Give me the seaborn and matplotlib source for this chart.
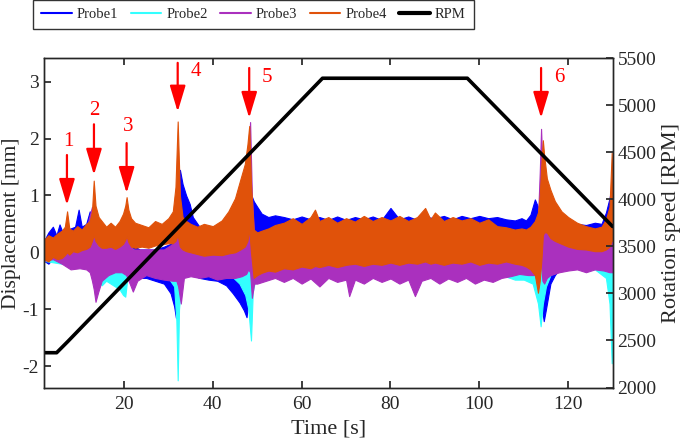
import matplotlib
matplotlib.use("Agg")
import matplotlib.pyplot as plt
from matplotlib.lines import Line2D
import seaborn as sns

# envelopes (upper / lower) of each probe signal [mm]
orange_t = [2, 3, 4, 5, 6, 6.7, 7.2, 7.7, 8.5, 9.5, 10.5, 11.5, 12.3, 12.8, 13.2,
            13.6, 14.3, 15, 16, 17, 18, 19, 19.8, 20.3, 20.6, 21.0, 21.6, 22.5, 24, 25.5,
            27, 28.5, 30, 31, 31.6, 32.1, 32.6, 33.2, 34, 35, 36.5, 38, 40, 42, 43.5,
            45, 46.2, 47.2, 47.8, 48.2, 48.6, 49.2, 50, 51, 52.5, 54, 56, 58, 60, 62,
            63, 64, 66, 68, 70, 72, 74, 76, 78, 80, 82, 84, 86, 87.8, 89,
            90, 92, 94, 96, 98, 100, 102, 104, 106, 108, 109.5, 110.5, 111.5, 112.5, 113.2,
            113.6, 114.0, 114.3, 114.6, 115.2, 116, 117, 118.5, 120, 122, 124, 126, 127.5, 128.5, 129.3,
            129.8, 130]
orange_hi = [0.22, 0.30, 0.26, 0.33, 0.38, 0.45, 0.72, 0.42, 0.38, 0.46, 0.40, 0.50, 0.55, 0.72, 1.26,
             0.82, 0.62, 0.55, 0.45, 0.52, 0.45, 0.55, 0.68, 0.82, 0.97, 0.75, 0.60, 0.52, 0.48, 0.44,
             0.55, 0.50, 0.60, 0.72, 1.15, 2.30, 1.00, 0.62, 0.55, 0.50, 0.45, 0.50, 0.46, 0.56, 0.72,
             0.95, 1.28, 1.55, 1.90, 2.22, 1.20, 0.40, 0.35, 0.38, 0.42, 0.48, 0.52, 0.60, 0.50, 0.62,
             0.75, 0.55, 0.62, 0.52, 0.60, 0.54, 0.64, 0.55, 0.62, 0.56, 0.64, 0.55, 0.62, 0.78, 0.58,
             0.70, 0.55, 0.62, 0.56, 0.60, 0.52, 0.58, 0.46, 0.44, 0.40, 0.42, 0.40, 0.45, 0.55, 0.70,
             1.00, 1.60, 1.97, 1.70, 1.30, 1.10, 0.90, 0.72, 0.62, 0.52, 0.46, 0.42, 0.45, 0.58, 0.80,
             1.75, 1.20]
orange_lo = [-0.12, -0.16, -0.08, -0.12, -0.10, -0.05, 0.00, -0.04, 0.02, 0.00, 0.04, 0.06, 0.10, 0.20, 0.30,
             0.20, 0.12, 0.08, 0.08, 0.10, 0.06, 0.10, 0.15, 0.22, 0.28, 0.18, 0.10, 0.08, 0.10, 0.08,
             0.12, 0.14, 0.16, 0.16, 0.20, 0.30, 0.10, 0.05, 0.02, 0.00, -0.03, -0.06, -0.04, -0.05, -0.02,
             0.00, 0.05, 0.10, 0.20, 0.40, 0.00, -0.45, -0.40, -0.36, -0.32, -0.34, -0.28, -0.30, -0.25, -0.28,
             -0.24, -0.26, -0.22, -0.26, -0.22, -0.20, -0.24, -0.20, -0.22, -0.18, -0.22, -0.18, -0.20, -0.16, -0.20,
             -0.18, -0.22, -0.18, -0.20, -0.16, -0.22, -0.18, -0.20, -0.16, -0.20, -0.22, -0.25, -0.30, -0.40, -0.71,
             -0.50, -0.10, 0.30, 0.35, 0.35, 0.25, 0.20, 0.15, 0.10, 0.06, 0.05, 0.02, 0.02, 0.05, 0.10,
             0.20, 0.20]

blue_t = [2, 3, 4, 4.8, 5.5, 6.2, 7, 8, 9, 9.8, 10.5, 11.5, 12.3, 13, 14,
          16, 18, 19.5, 20.3, 20.8, 21.5, 22.5, 23.5, 25, 27, 29, 30.5, 31.3, 31.7, 32.1,
          32.6, 33.2, 34, 34.8, 35.5, 37, 39, 41, 43, 44.5, 46, 47, 47.6, 48.2, 48.7,
          49.2, 50, 51, 52.5, 54, 56, 58, 60, 62, 64, 66, 68, 70, 72, 74,
          76, 78, 80, 82, 84, 86, 88, 90, 92, 94, 96, 98, 100, 102, 104,
          106, 108, 109.5, 110.5, 111.5, 112.5, 113.2, 113.9, 114.5, 115, 116, 117, 118.5, 120, 122,
          124, 126, 127.5, 128.5, 129.3, 129.8, 130]
blue_hi = [0.20, 0.35, 0.45, 0.30, 0.49, 0.35, 0.40, 0.42, 0.45, 0.75, 0.45, 0.50, 0.72, 0.50, 0.30,
           0.20, 0.25, 0.30, 0.50, 0.45, 0.20, 0.10, 0.05, 0.05, 0.05, 0.10, 0.15, 0.20, 0.40, 0.80,
           1.45, 1.20, 1.00, 0.85, 0.62, 0.45, 0.30, 0.25, 0.20, 0.20, 0.20, 0.25, 0.40, 0.80, 1.00,
           0.90, 0.80, 0.68, 0.62, 0.65, 0.62, 0.58, 0.63, 0.58, 0.62, 0.57, 0.63, 0.57, 0.62, 0.58,
           0.63, 0.57, 0.78, 0.58, 0.63, 0.57, 0.62, 0.60, 0.64, 0.58, 0.64, 0.60, 0.64, 0.60, 0.62,
           0.58, 0.56, 0.60, 0.56, 0.66, 0.93, 0.80, 0.40, 0.10, 0.00, 0.00, 0.10, 0.25, 0.45, 0.50,
           0.48, 0.52, 0.50, 0.70, 0.95, 1.15, 1.05]
blue_lo = [-0.15, -0.20, -0.10, -0.15, -0.12, -0.10, -0.08, -0.05, -0.05, -0.05, -0.02, 0.00, -0.05, -0.20, -0.30,
           -0.20, -0.15, -0.15, -0.20, -0.20, -0.22, -0.30, -0.45, -0.45, -0.50, -0.55, -0.72, -0.95, -1.15, -0.60,
           -0.30, -0.35, -0.35, -0.38, -0.40, -0.45, -0.48, -0.50, -0.58, -0.72, -0.88, -1.02, -1.14, -0.70, -0.20,
           0.00, 0.10, 0.15, 0.15, 0.10, 0.10, 0.10, 0.10, 0.10, 0.10, 0.10, 0.10, 0.10, 0.10, 0.10,
           0.10, 0.10, 0.10, 0.10, 0.10, 0.10, 0.10, 0.10, 0.10, 0.10, 0.10, 0.10, 0.10, 0.10, 0.10,
           0.10, 0.10, 0.05, 0.00, -0.10, -0.30, -0.60, -0.90, -1.21, -1.00, -0.55, -0.40, -0.25, -0.10, 0.00,
           0.00, 0.00, 0.00, 0.00, 0.00, 0.00, 0.00]

purple_t = [2, 4, 6, 8, 10, 11.5, 12.3, 12.8, 13.2, 13.6, 14.2, 15, 16.5, 18, 19.5,
            20.5, 21.3, 22, 23, 25, 27, 29, 31, 31.8, 32.2, 32.8, 33.5, 35, 37, 39,
            41, 43, 45, 46.5, 47.5, 48.0, 48.4, 48.8, 49.3, 50, 52, 54, 56, 58, 60,
            62, 64, 66, 68, 70, 70.7, 72, 74, 76, 78, 80, 82, 84, 85.5, 87,
            89, 91, 93, 95, 97, 99, 101, 103, 105, 107, 109, 111, 112.5, 113.2, 113.6,
            113.9, 114.2, 114.6, 115.2, 116, 118, 120, 122, 124, 126, 128, 129.3, 130]
purple_hi = [0.15, 0.20, 0.20, 0.25, 0.25, 0.40, 0.65, 0.80, 0.50, 0.20, 0.10, 0.10, 0.10, 0.10, 0.15,
             0.40, 0.20, 0.05, 0.05, 0.05, 0.05, 0.05, 0.15, 0.90, 1.50, 0.60, 0.10, 0.05, 0.05, 0.05,
             0.05, 0.10, 0.30, 0.60, 1.20, 1.80, 2.29, 1.00, 0.30, 0.10, 0.10, 0.10, 0.10, 0.10, 0.10,
             0.10, 0.10, 0.10, 0.10, 0.10, 0.10, 0.10, 0.10, 0.10, 0.10, 0.10, 0.10, 0.10, 0.10, 0.10,
             0.10, 0.10, 0.10, 0.10, 0.10, 0.10, 0.10, 0.10, 0.10, 0.10, 0.10, 0.10, 0.30, 0.60, 1.40,
             2.17, 1.50, 0.70, 0.45, 0.35, 0.30, 0.25, 0.20, 0.20, 0.20, 0.20, 0.20, 0.20]
purple_lo = [-0.15, -0.12, -0.20, -0.30, -0.28, -0.30, -0.35, -0.50, -0.65, -0.87, -0.70, -0.50, -0.40, -0.35, -0.35,
             -0.40, -0.55, -0.69, -0.50, -0.40, -0.45, -0.48, -0.50, -0.50, -0.60, -0.90, -0.45, -0.42, -0.45, -0.42,
             -0.48, -0.45, -0.45, -0.42, -0.38, -0.30, -0.35, -0.80, -0.55, -0.55, -0.50, -0.45, -0.52, -0.45, -0.55,
             -0.46, -0.60, -0.45, -0.52, -0.48, -0.77, -0.48, -0.55, -0.45, -0.52, -0.46, -0.55, -0.48, -0.77, -0.50,
             -0.45, -0.55, -0.46, -0.52, -0.45, -0.55, -0.48, -0.52, -0.45, -0.42, -0.38, -0.40, -0.40, -0.35, -0.25,
             -0.20, -0.50, -0.55, -0.45, -0.40, -0.35, -0.32, -0.30, -0.35, -0.30, -0.32, -0.35, -0.35]

cyan_t = [2, 6, 10, 12, 12.8, 13.4, 14, 15, 16, 17, 18, 19, 19.8, 20.3, 20.7,
          21.2, 22, 24, 27, 30, 31.3, 31.8, 32.1, 32.4, 33, 35, 40, 44, 46, 47.3,
          48.0, 48.6, 49.0, 50, 55, 70, 90, 105, 108, 110, 112, 113.2, 113.8, 114.3, 115,
          116, 118, 122, 126, 128.5, 129.3, 129.8, 130]
cyan_hi = [0.10, 0.10, 0.10, 0.20, 0.60, 0.55, 0.30, 0.20, 0.10, 0.10, 0.10, 0.10, 0.10, 0.20, 0.30,
           0.10, 0.05, 0.00, 0.00, 0.00, 0.00, 0.00, 0.20, 0.30, 0.10, 0.00, 0.00, 0.00, 0.00, 0.00,
           0.10, 0.20, 0.10, 0.00, 0.00, 0.00, 0.00, 0.00, 0.00, 0.00, 0.00, 0.00, 0.10, 0.20, 0.10,
           0.00, 0.00, 0.00, 0.00, 0.00, 0.00, 0.00, 0.00]
cyan_lo = [-0.15, -0.20, -0.20, -0.20, -0.35, -0.45, -0.50, -0.58, -0.50, -0.55, -0.60, -0.65, -0.75, -0.78, -0.50,
           -0.35, -0.30, -0.35, -0.40, -0.45, -0.60, -1.20, -2.25, -1.00, -0.45, -0.35, -0.35, -0.40, -0.55, -0.75,
           -1.00, -1.55, -0.70, -0.30, -0.30, -0.30, -0.30, -0.40, -0.48, -0.48, -0.55, -0.90, -1.30, -0.90, -0.60,
           -0.40, -0.30, -0.25, -0.30, -0.45, -0.90, -1.95, -1.50]

# rotation speed breakpoints
rpm_t = [2, 4.85, 7.4, 64.7, 97.3, 130]
rpm = [2370, 2370, 2491, 5288, 5288, 3712]

# resonance markers
arrow_t = [7.17, 13.25, 20.6, 32.1, 48.2, 113.9]
arrow_tail = [1.71, 2.25, 1.92, 3.33, 3.24, 3.24]
arrow_tip = [0.83, 1.36, 1.04, 2.47, 2.36, 2.36]
label_t = [7.4, 13.25, 20.9, 36.1, 52.1, 117.9]
label_y = [1.94, 2.50, 2.21, 3.17, 3.08, 3.08]
labels = ["1", "2", "3", "4", "5", "6"]

sns.set_theme(style="ticks")
plt.rcParams['font.family'] = ['Liberation Serif', 'DejaVu Serif']
plt.rcParams['axes.linewidth'] = 1.0
plt.rcParams['axes.unicode_minus'] = False

fig = plt.figure(figsize=(6.85, 4.41), dpi=100)
ax = fig.add_axes([0.0642, 0.1213, 0.8301, 0.7465])
ax2 = ax.twinx()

probes = [
    ("Probe1", "#0000FF", blue_t, blue_hi, blue_lo),
    ("Probe2", "#33FFFF", cyan_t, cyan_hi, cyan_lo),
    ("Probe3", "#AA30BE", purple_t, purple_hi, purple_lo),
    ("Probe4", "#E0520A", orange_t, orange_hi, orange_lo),
]
handles = []
for name, color, t, hi, lo in probes:
    ax.fill_between(t, lo, hi, color=color, lw=0.8, edgecolor=color)
    handles.append(Line2D([], [], color=color, lw=1.5, label=name))

sns.lineplot(x=rpm_t, y=rpm, ax=ax2, color="black", lw=2.6)
handles.append(Line2D([], [], color="black", lw=3, label="RPM"))

for t, y0, y1 in zip(arrow_t, arrow_tail, arrow_tip):
    ax.annotate("", xy=(t, y1), xytext=(t, y0),
                arrowprops=dict(arrowstyle="-|>,head_length=1.0,head_width=0.3",
                                color="red", lw=1.6, mutation_scale=16,
                                shrinkA=0, shrinkB=0))
for t, y, s in zip(label_t, label_y, labels):
    ax.text(t, y, s, color="red", fontsize=15, ha="center", va="center")

ax.set_xlim(2, 130)
ax.set_ylim(-2.376, 3.41)
ax2.set_ylim(2000, 5500)
ax.set_xticks([20, 40, 60, 80, 100, 120])
ax.set_yticks([-2, -1, 0, 1, 2, 3])
ax2.set_yticks([2000, 2500, 3000, 3500, 4000, 4500, 5000, 5500])

ax.tick_params(axis="x", direction="in", top=True, length=5, labelsize=14, pad=6)
ax.tick_params(axis="y", direction="in", length=5, labelsize=14)
ax2.tick_params(axis="y", direction="in", length=5, labelsize=14)

ax.set_xlabel("Time [s]", fontsize=16, labelpad=5)
ax.set_ylabel("Displacement [mm]", fontsize=15.5, labelpad=1)
ax2.set_ylabel("Rotation speed [RPM]", fontsize=16, labelpad=4)

leg = fig.legend(handles=handles, loc="upper left", bbox_to_anchor=(0.048, 1.0), ncol=5,
                 frameon=True, fancybox=False, edgecolor="black", fontsize=10.5,
                 borderaxespad=0, handlelength=2.1, columnspacing=0.85, handletextpad=0.35,
                 borderpad=0.55)
leg.get_frame().set_linewidth(1.0)

fig.savefig("out.png", dpi=100)
